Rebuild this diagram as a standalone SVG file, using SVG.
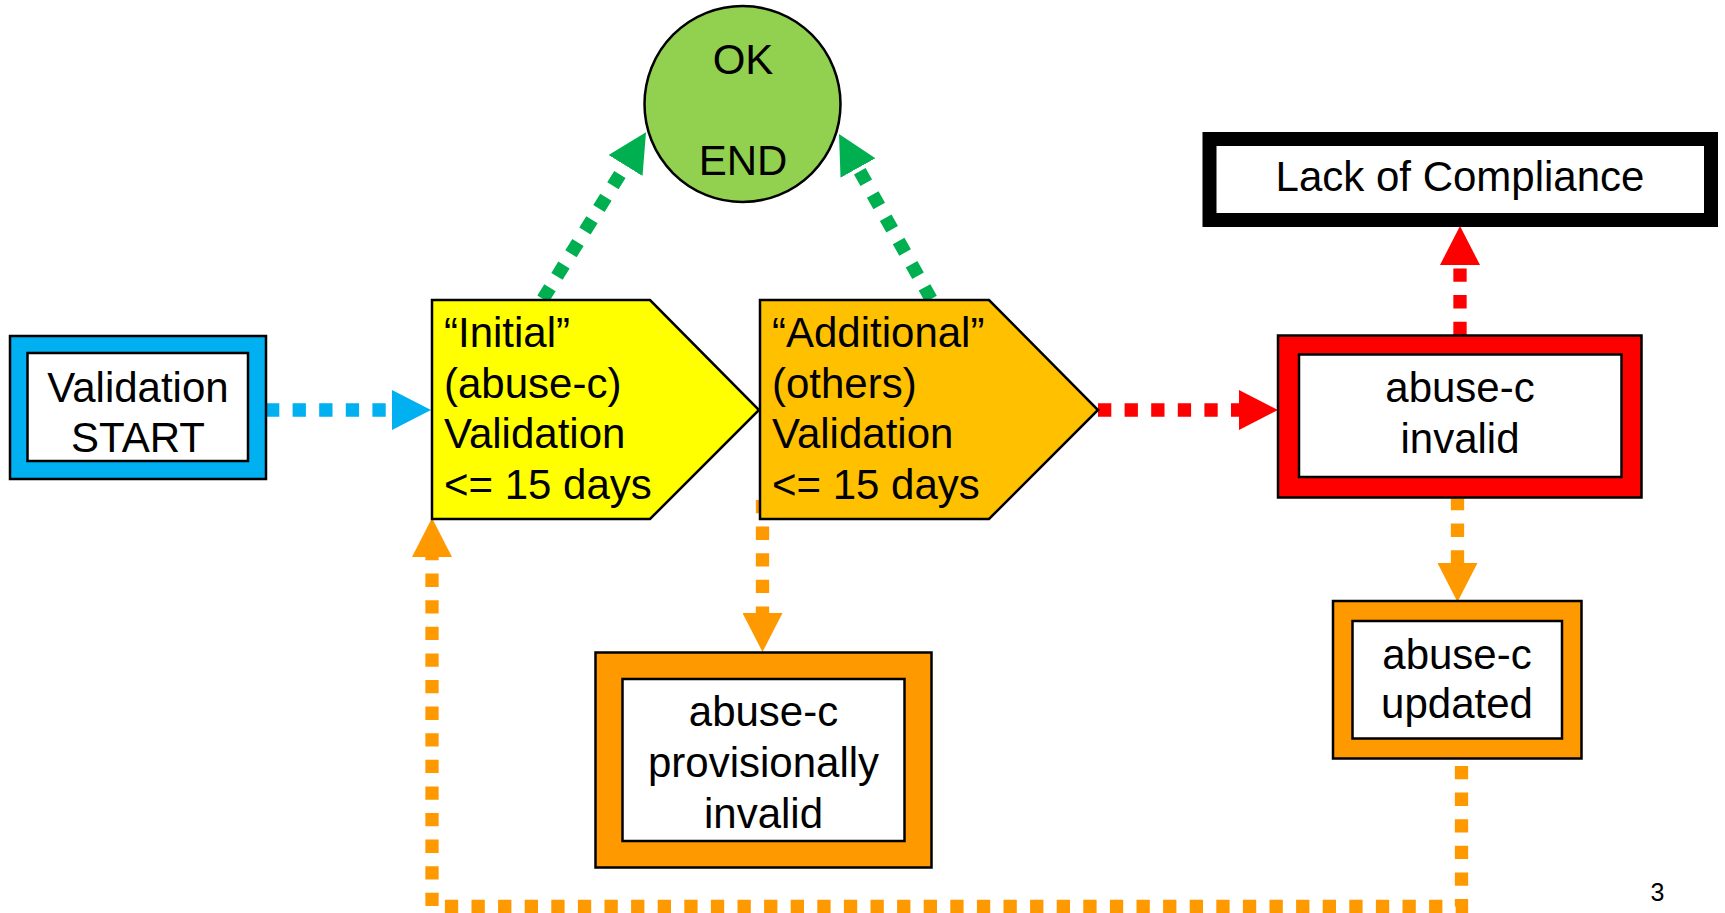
<svg xmlns="http://www.w3.org/2000/svg" width="1725" height="913" viewBox="0 0 1725 913">
<style>
  .t { font-family: "Liberation Sans", Arial, sans-serif; font-size: 42px; fill: #000; }
  .c { text-anchor: middle; }
  .ol { stroke: #000; stroke-width: 2.5; }
  .in { fill: #fff; stroke: #000; stroke-width: 2.5; }
  .dl { fill: none; stroke-width: 13.3; stroke-dasharray: 13.3 13.3; }
</style>
<defs>
  <marker id="ah-blue" markerUnits="userSpaceOnUse" markerWidth="40" markerHeight="40" refX="0" refY="20" orient="auto"><path d="M0,0 L39,20 L0,40 Z" fill="#00B0F0"/></marker>
  <marker id="ah-green" markerUnits="userSpaceOnUse" markerWidth="40" markerHeight="40" refX="0" refY="20" orient="auto"><path d="M0,0 L39,20 L0,40 Z" fill="#00B050"/></marker>
  <marker id="ah-red" markerUnits="userSpaceOnUse" markerWidth="40" markerHeight="40" refX="0" refY="20" orient="auto"><path d="M0,0 L39,20 L0,40 Z" fill="#FF0000"/></marker>
  <marker id="ah-orange" markerUnits="userSpaceOnUse" markerWidth="40" markerHeight="40" refX="0" refY="20" orient="auto"><path d="M0,0 L39,20 L0,40 Z" fill="#FF9900"/></marker>
</defs>
<rect width="1725" height="913" fill="#fff"/>

<g id="connectors">
  <path class="dl" stroke="#00B0F0" d="M266,410 H392" marker-end="url(#ah-blue)"/>
  <path class="dl" stroke="#00B050" d="M543,299 L625.5,165.5" marker-end="url(#ah-green)"/>
  <path class="dl" stroke="#00B050" d="M931,299 L858,168" marker-end="url(#ah-green)"/>
  <path class="dl" stroke="#FF0000" d="M1098,410 H1239" marker-end="url(#ah-red)"/>
  <path class="dl" stroke="#FF0000" d="M1460,335 V265" marker-end="url(#ah-red)"/>
  <path class="dl" stroke="#FF9900" d="M1457.5,497 V563" marker-end="url(#ah-orange)"/>
  <path class="dl" stroke="#FF9900" d="M762.5,500 V613" marker-end="url(#ah-orange)"/>
  <path class="dl" stroke="#FF9900" stroke-dashoffset="18.6" d="M1461.5,758 V906.5 H432 V557" marker-end="url(#ah-orange)"/>
</g>

<g id="node-start">
  <rect class="ol" x="10" y="336" width="256" height="143" fill="#00B0F0"/>
  <rect class="in" x="27.5" y="353" width="220.5" height="108"/>
  <text class="t c" x="138" y="401.5">Validation</text>
  <text class="t c" x="138" y="451.5">START</text>
</g>

<g id="node-initial">
  <polygon class="ol" points="432,300 650,300 759,410 650,519 432,519" fill="#FFFF00"/>
  <text class="t" x="444" y="347">“Initial”</text>
  <text class="t" x="444" y="397.5">(abuse-c)</text>
  <text class="t" x="444" y="448">Validation</text>
  <text class="t" x="444" y="498.5">&lt;= 15 days</text>
</g>

<g id="node-additional">
  <polygon class="ol" points="760,300 989,300 1098,410 989,519 760,519" fill="#FFC000"/>
  <text class="t" x="772" y="347">“Additional”</text>
  <text class="t" x="772" y="397.5">(others)</text>
  <text class="t" x="772" y="448">Validation</text>
  <text class="t" x="772" y="498.5">&lt;= 15 days</text>
</g>

<g id="node-ok">
  <circle class="ol" cx="742.5" cy="104" r="98" fill="#92D050"/>
  <text class="t c" x="743" y="74">OK</text>
  <text class="t c" x="743" y="175">END</text>
</g>

<g id="node-lack">
  <rect x="1209.5" y="139" width="501.5" height="81" fill="#fff" stroke="#000" stroke-width="14"/>
  <text class="t c" x="1460" y="191">Lack of Compliance</text>
</g>

<g id="node-invalid">
  <rect class="ol" x="1278" y="335.5" width="363.5" height="162" fill="#FF0000"/>
  <rect class="in" x="1299" y="354.5" width="322.5" height="122.5"/>
  <text class="t c" x="1460" y="401.5">abuse-c</text>
  <text class="t c" x="1460" y="453">invalid</text>
</g>

<g id="node-updated">
  <rect class="ol" x="1333" y="601" width="248.5" height="157.5" fill="#FF9900"/>
  <rect class="in" x="1352.5" y="621" width="209.5" height="117.5"/>
  <text class="t c" x="1457" y="668.5">abuse-c</text>
  <text class="t c" x="1457" y="717.5">updated</text>
</g>

<g id="node-provisional">
  <rect class="ol" x="595.5" y="652.5" width="336" height="215" fill="#FF9900"/>
  <rect class="in" x="622.5" y="679" width="282" height="162"/>
  <text class="t c" x="763.5" y="726">abuse-c</text>
  <text class="t c" x="763.5" y="777">provisionally</text>
  <text class="t c" x="763.5" y="828">invalid</text>
</g>

<text class="t" x="1657.5" y="901" font-size="25" text-anchor="middle" style="font-size:25px">3</text>
</svg>
